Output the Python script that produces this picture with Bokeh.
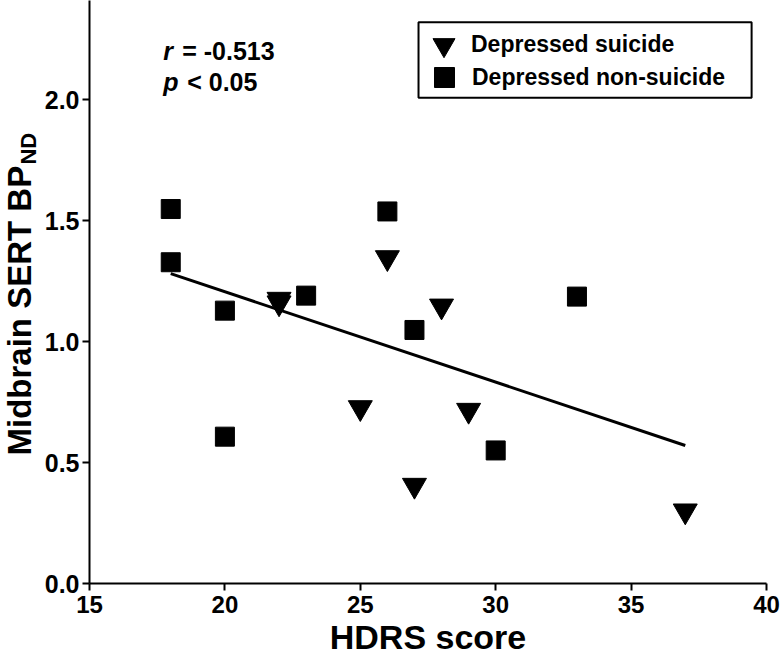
import numpy as np
from bokeh.plotting import figure
from bokeh.layouts import row
from bokeh.models import (Range1d, FixedTicker, NumeralTickFormatter, Label, Legend,
                          LegendItem, BoxAnnotation)
from bokeh.embed import file_html
from bokeh.resources import INLINE

# ---- data ----
suicide_hdrs = [22, 22, 26, 28, 25, 29, 27, 37]
suicide_sert = [1.175, 1.16, 1.347, 1.147, 0.727, 0.716, 0.406, 0.30]
nonsuicide_hdrs = [18, 18, 20, 23, 26, 27, 20, 30, 33]
nonsuicide_sert = [1.548, 1.328, 1.128, 1.19, 1.538, 1.048, 0.607, 0.55, 1.186]
x_ticks = [15, 20, 25, 30, 35, 40]
y_ticks = [0.0, 0.5, 1.0, 1.5, 2.0]
series_labels = ["Depressed suicide", "Depressed non-suicide"]
y_title = "Midbrain SERT BP"
y_title_sub = "ND"
x_title = "HDRS score"
r_value_text = "= -0.513"
p_value_text = "< 0.05"

FONT = "Liberation Sans"
W, H = 780, 664
W_TITLE = 41
BOTTOM = 81

y_range = Range1d(0, 2.41)

# ---- main plot ----
p = figure(width=W - W_TITLE, height=H, x_range=Range1d(15, 40), y_range=y_range,
           output_backend="svg", toolbar_location=None,
           min_border_left=87 - W_TITLE, min_border_right=14, min_border_top=0,
           min_border_bottom=BOTTOM)
p.grid.visible = False
p.outline_line_color = None
p.background_fill_color = "white"
p.border_fill_color = "white"

for ax in (p.xaxis[0], p.yaxis[0]):
    ax.axis_line_width = 2
    ax.axis_line_color = "black"
    ax.major_tick_line_width = 2
    ax.major_tick_line_color = "black"
    ax.major_tick_out = 7
    ax.major_tick_in = 0
    ax.minor_tick_line_color = None
    ax.major_label_text_font = FONT
    ax.major_label_text_font_style = "bold"
    ax.major_label_text_color = "black"
p.xaxis.major_label_text_font_size = "24px"
p.yaxis.major_label_text_font_size = "25px"
p.xaxis.major_label_standoff = 5
p.yaxis.major_label_standoff = 3

p.xaxis.ticker = FixedTicker(ticks=x_ticks)
p.yaxis.ticker = FixedTicker(ticks=y_ticks)
p.xaxis.formatter = NumeralTickFormatter(format="0")
p.yaxis.formatter = NumeralTickFormatter(format="0.0")

p.xaxis.axis_label = x_title
p.xaxis.axis_label_text_font = FONT
p.xaxis.axis_label_text_font_size = "34px"
p.xaxis.axis_label_text_font_style = "bold"
p.xaxis.axis_label_text_color = "black"
p.xaxis.axis_label_standoff = 2

# regression line through all points
all_x = np.array(suicide_hdrs + nonsuicide_hdrs, dtype=float)
all_y = np.array(suicide_sert + nonsuicide_sert, dtype=float)
slope, intercept = np.polyfit(all_x, all_y, 1)
fit_x = np.array([all_x.min(), all_x.max()])
p.line(fit_x, slope * fit_x + intercept, line_width=3, line_color="black")

r_s = p.scatter(suicide_hdrs, suicide_sert, marker="inverted_triangle", size=24,
                fill_color="black", line_color="black", line_width=1)
r_n = p.scatter(nonsuicide_hdrs, nonsuicide_sert, marker="square", size=19,
                fill_color="black", line_color="black", line_width=1)

# legend frame
p.add_layout(BoxAnnotation(left=27.15, right=39.45, top=2.320, bottom=2.008,
                           fill_color="white", fill_alpha=1.0,
                           line_color="black", line_width=2, line_alpha=1.0,
                           line_dash="solid"))

leg_common = dict(padding=0, spacing=0, margin=0,
                  label_height=20, label_text_font=FONT, label_text_font_size="23px",
                  label_text_font_style="bold", label_text_color="black",
                  border_line_color=None, background_fill_alpha=0.0)
leg_a = Legend(items=[LegendItem(label=series_labels[0], renderers=[r_s])],
               location=(327, 511), glyph_width=55, glyph_height=55, label_standoff=0,
               label_width=260, **leg_common)
leg_b = Legend(items=[LegendItem(label=series_labels[1], renderers=[r_n])],
               location=(330, 481), glyph_width=50, glyph_height=50, label_standoff=3,
               label_width=260, **leg_common)
p.add_layout(leg_a)
p.add_layout(leg_b)

# statistics text
stat_kw = dict(text_font=FONT, text_font_size="25px", text_color="black", text_baseline="alphabetic")
p.add_layout(Label(x=17.725, y=2.2, text="r", text_font_style="bold italic", **stat_kw))
p.add_layout(Label(x=18.424, y=2.2, text=r_value_text, text_font_style="bold", **stat_kw))
p.add_layout(Label(x=17.725, y=2.072, text="p", text_font_style="bold italic", **stat_kw))
p.add_layout(Label(x=18.608, y=2.072, text=p_value_text, text_font_style="bold", **stat_kw))

# ---- narrow panel holding the rotated y title (with subscript), sharing the y scale ----
pt = figure(width=W_TITLE, height=H, x_range=Range1d(0, W_TITLE), y_range=y_range,
            x_axis_location=None, y_axis_location=None,
            output_backend="svg", toolbar_location=None,
            min_border_left=0, min_border_right=0, min_border_top=0,
            min_border_bottom=BOTTOM)
pt.grid.visible = False
pt.outline_line_color = None
pt.background_fill_color = "white"
pt.border_fill_color = "white"
pt.add_layout(Label(x=18.6, y=0.529, text=y_title, angle=np.pi / 2,
                    text_align="left", text_baseline="middle", text_font=FONT,
                    text_font_size="33px", text_font_style="bold", text_color="black"))
pt.add_layout(Label(x=28.3, y=1.732, text=y_title_sub, angle=np.pi / 2,
                    text_align="left", text_baseline="middle", text_font=FONT,
                    text_font_size="22px", text_font_style="bold", text_color="black"))

layout = row(pt, p, spacing=0)
open("out.html", "w").write(file_html(layout, INLINE))
